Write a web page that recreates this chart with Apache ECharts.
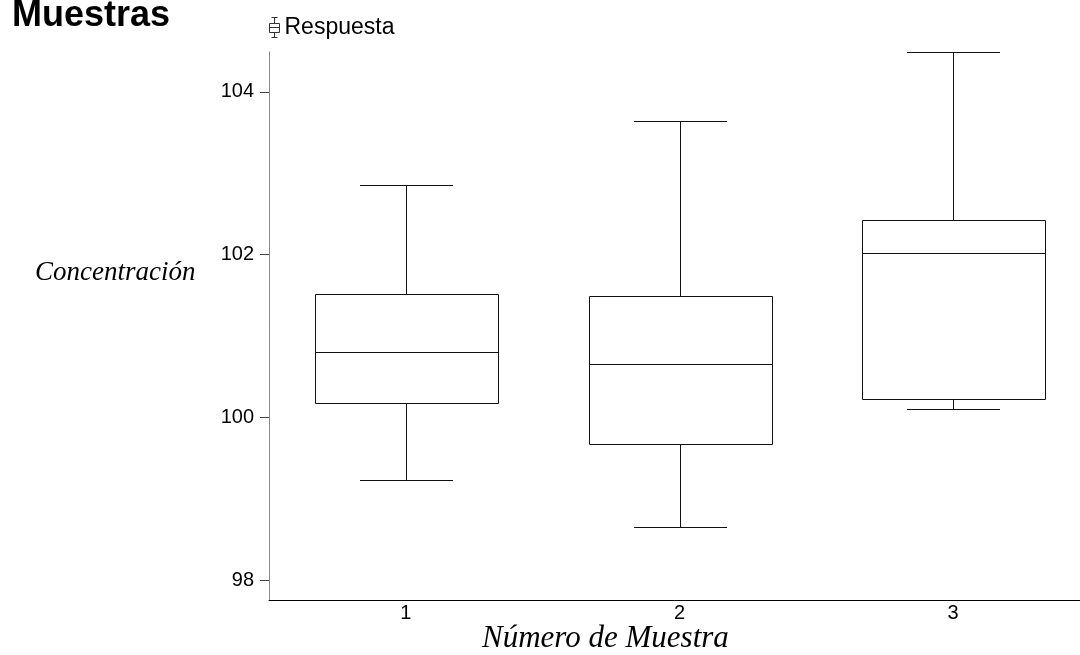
<!DOCTYPE html>
<html>
<head>
<meta charset="utf-8">
<script src="https://cdn.jsdelivr.net/npm/echarts@6/dist/echarts.min.js"></script>
<style>
  html, body { margin: 0; padding: 0; background: #fff; }
  #main { width: 1080px; height: 655px; }
</style>
</head>
<body>
<div id="main"></div>
<script>
// datos
var muestras = ['1', '2', '3'];
var bigoteInf = [99.23, 98.65, 100.10];
var cuartil1 = [100.18, 99.67, 100.22];
var mediana = [100.80, 100.65, 102.02];
var cuartil3 = [101.52, 101.49, 102.43];
var bigoteSup = [102.86, 103.64, 104.49];
var marcasY = [98, 100, 102, 104];

var datos = [];
for (var i = 0; i < muestras.length; i++) {
    datos.push([i, bigoteInf[i], cuartil1[i], mediana[i], cuartil3[i], bigoteSup[i]]);
}

function nitido(v) {
    return Math.round(v) + 0.5;
}

function dibujarCaja(params, api) {
    var x = api.value(0);
    var lo = api.coord([x, api.value(1)]);
    var q1 = api.coord([x, api.value(2)]);
    var md = api.coord([x, api.value(3)]);
    var q3 = api.coord([x, api.value(4)]);
    var hi = api.coord([x, api.value(5)]);
    var banda = api.size([1, 0])[0];
    var bw = banda * 0.667 / 2;
    var cw = banda * 0.337 / 2;
    var cx = nitido(md[0]);
    var estilo = {stroke: '#111', fill: null, lineWidth: 1};
    var yLo = nitido(lo[1]), yQ1 = nitido(q1[1]), yMd = nitido(md[1]), yQ3 = nitido(q3[1]), yHi = nitido(hi[1]);
    var l = Math.round(cx - bw) + 0.5, r = Math.round(cx + bw) + 0.5;
    return {
        type: 'group',
        children: [
            {type: 'line', shape: {x1: cx, y1: yHi, x2: cx, y2: yQ3}, style: estilo},
            {type: 'line', shape: {x1: Math.round(cx - cw), y1: yHi, x2: Math.round(cx + cw), y2: yHi}, style: estilo},
            {type: 'rect', shape: {x: l, y: yQ3, width: r - l, height: yQ1 - yQ3}, style: {stroke: '#111', fill: '#fff', lineWidth: 1}},
            {type: 'line', shape: {x1: l, y1: yMd, x2: r, y2: yMd}, style: estilo},
            {type: 'line', shape: {x1: cx, y1: yQ1, x2: cx, y2: yLo}, style: estilo},
            {type: 'line', shape: {x1: Math.round(cx - cw), y1: yLo, x2: Math.round(cx + cw), y2: yLo}, style: estilo}
        ]
    };
}

var chart = echarts.init(document.getElementById('main'));
var option = {
    backgroundColor: '#fff',
    animation: false,
    textStyle: {fontFamily: 'Liberation Sans, Arial, sans-serif', color: '#000'},
    title: {
        text: 'Muestras',
        left: 7,
        top: -7,
        textStyle: {fontSize: 36, fontWeight: 'bold', color: '#000', fontFamily: 'Liberation Sans, Arial, sans-serif'}
    },
    legend: {
        left: 264,
        top: 11,
        itemWidth: 10,
        itemHeight: 20,
        itemGap: 5,
        textStyle: {fontSize: 23, color: '#000'},
        data: [{
            name: 'Respuesta',
            icon: 'path://M2,0H8M5,0V6M0,6H10V15H0ZM0,10H10M5,15V20M2,20H8',
            itemStyle: {color: 'transparent', borderColor: '#333', borderWidth: 1}
        }]
    },
    grid: {left: 269, width: 821, top: 52, bottom: 55, outerBoundsMode: 'none'},
    xAxis: {
        type: 'category',
        data: muestras,
        axisLine: {lineStyle: {color: '#000', width: 1}},
        axisTick: {show: false},
        axisLabel: {fontSize: 20, color: '#000', margin: 3},
        splitLine: {show: false}
    },
    yAxis: {
        type: 'value',
        min: 97.754,
        max: 104.49,
        axisLine: {show: true, lineStyle: {color: '#888', width: 1}},
        axisTick: {show: true, length: 9, customValues: marcasY, lineStyle: {color: '#444'}},
        axisLabel: {fontSize: 20, color: '#000', margin: 15, customValues: marcasY},
        splitLine: {show: false}
    },
    graphic: [
        {
            type: 'text', left: 35, top: 259,
            style: {text: 'Concentración', font: 'italic 27px "Liberation Serif", "Times New Roman", serif', fill: '#000'}
        },
        {
            type: 'text', left: 482, top: 623,
            style: {text: 'Número de Muestra', font: 'italic 31px "Liberation Serif", "Times New Roman", serif', fill: '#000'}
        }
    ],
    series: [{
        name: 'Respuesta',
        type: 'custom',
        renderItem: dibujarCaja,
        encode: {x: 0, y: [1, 2, 3, 4, 5]},
        data: datos
    }]
};
chart.setOption(option);
</script>
</body>
</html>
